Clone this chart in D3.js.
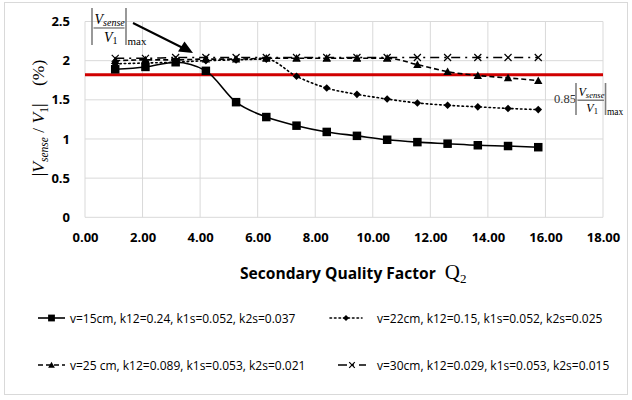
<!DOCTYPE html>
<html>
<head>
<meta charset="utf-8">
<script src="https://cdn.jsdelivr.net/npm/d3@7/dist/d3.min.js"></script>
<style>
  html, body { margin: 0; padding: 0; background: #fff; }
  svg { display: block; }
</style>
</head>
<body>
<svg id="chart" width="632" height="400"></svg>
<script>
// Secondary quality factor Q2 (x values shared by all series)
const q2 = [1.05, 2.1, 3.15, 4.2, 5.25, 6.3, 7.35, 8.4, 9.45, 10.5, 11.55, 12.6, 13.65, 14.7, 15.75];

// |Vsense / V1| (%) for each coil spacing
const v15 = [1.89, 1.92, 1.98, 1.87, 1.47, 1.28, 1.17, 1.09, 1.04, 0.99, 0.96, 0.94, 0.92, 0.91, 0.895];
const v22 = [1.96, 1.97, 1.98, 2.00, 2.01, 2.02, 1.80, 1.65, 1.57, 1.51, 1.46, 1.43, 1.41, 1.39, 1.375];
const v25 = [2.00, 2.01, 2.01, 2.02, 2.02, 2.03, 2.03, 2.03, 2.03, 2.03, 1.95, 1.86, 1.81, 1.78, 1.745];
const v30 = [2.03, 2.03, 2.04, 2.04, 2.04, 2.04, 2.04, 2.04, 2.04, 2.04, 2.04, 2.04, 2.04, 2.04, 2.04];

const seriesLabels = [
  "v=15cm, k12=0.24, k1s=0.052, k2s=0.037",
  "v=22cm, k12=0.15, k1s=0.052, k2s=0.025",
  "v=25 cm, k12=0.089, k1s=0.053, k2s=0.021",
  "v=30cm, k12=0.029, k1s=0.053, k2s=0.015"
];

// Threshold level: 0.85 of the maximum ratio
const thresholdLevel = 1.82;

const xTicks = [0, 2, 4, 6, 8, 10, 12, 14, 16, 18];
const yTicks = [0, 0.5, 1, 1.5, 2, 2.5];

const svg = d3.select("#chart");
const W = 632, H = 400;
const plot = { left: 85, right: 603, top: 21.5, bottom: 217.3 };

const x = d3.scaleLinear().domain([0, 18]).range([plot.left, plot.right]);
const y = d3.scaleLinear().domain([0, 2.5]).range([plot.bottom, plot.top]);

const tickFont = "'Open Sans', 'Liberation Sans', sans-serif";
const mathFont = "'Liberation Serif', 'DejaVu Serif', serif";

// outer frame
svg.append("rect").attr("x", 4.5).attr("y", 2.5).attr("width", W - 9).attr("height", H - 8)
  .attr("fill", "#fff").attr("stroke", "#d9d9d9").attr("stroke-width", 1);

// gridlines
const grid = svg.append("g");
grid.selectAll("line.v").data(xTicks).join("line")
  .attr("x1", d => x(d)).attr("x2", d => x(d))
  .attr("y1", plot.top).attr("y2", plot.bottom)
  .attr("stroke", "#d9d9d9").attr("stroke-width", 1);
grid.selectAll("line.h").data(yTicks).join("line")
  .attr("x1", plot.left).attr("x2", plot.right)
  .attr("y1", d => y(d)).attr("y2", d => y(d))
  .attr("stroke", "#d9d9d9").attr("stroke-width", 1);

// axes (labels only; the grid draws the lines)
const yAxis = svg.append("g").attr("transform", `translate(${plot.left},0)`)
  .call(d3.axisLeft(y).tickValues(yTicks).tickFormat(d3.format("")).tickSize(0).tickPadding(15));
const xAxis = svg.append("g").attr("transform", `translate(0,${plot.bottom})`)
  .call(d3.axisBottom(x).tickValues(xTicks).tickFormat(d3.format(".2f")).tickSize(0).tickPadding(15));
[yAxis, xAxis].forEach(a => {
  a.select(".domain").remove();
  a.selectAll("text").attr("font-family", tickFont).attr("font-weight", "bold")
    .attr("font-size", 13).attr("fill", "#000");
});

// threshold line
svg.append("line")
  .attr("x1", plot.left).attr("x2", plot.right)
  .attr("y1", y(thresholdLevel)).attr("y2", y(thresholdLevel))
  .attr("stroke", "#d00000").attr("stroke-width", 3);

// series
const series = [
  { values: v15, dash: null, width: 1.6, marker: "square" },
  { values: v22, dash: "1.5,3", width: 1.6, marker: "diamond", cap: "round" },
  { values: v25, dash: "5,3", width: 1.6, marker: "triangle" },
  { values: v30, dash: "9,5,2,5", width: 1.6, marker: "cross" }
];

const line = d3.line().x(d => x(d[0])).y(d => y(d[1])).curve(d3.curveMonotoneX);

function drawMarker(g, type, cx, cy, scale = 1) {
  if (type === "square") {
    const s = 8.5 * scale;
    g.append("rect").attr("x", cx - s / 2).attr("y", cy - s / 2).attr("width", s).attr("height", s).attr("fill", "#000");
  } else if (type === "diamond") {
    const s = 3.8 * scale;
    g.append("path").attr("d", `M${cx},${cy - s}L${cx + s},${cy}L${cx},${cy + s}L${cx - s},${cy}Z`).attr("fill", "#000");
  } else if (type === "triangle") {
    const s = 4.2 * scale;
    g.append("path").attr("d", `M${cx},${cy - s}L${cx + s},${cy + s * 0.8}L${cx - s},${cy + s * 0.8}Z`).attr("fill", "#000");
  } else if (type === "cross") {
    const s = 3.5 * scale;
    g.append("path").attr("d", `M${cx - s},${cy - s}L${cx + s},${cy + s}M${cx - s},${cy + s}L${cx + s},${cy - s}`)
      .attr("stroke", "#000").attr("stroke-width", 1.2).attr("fill", "none");
  }
}

// draw back-to-front so the flat series sit on top
[3, 2, 1, 0].forEach(i => {
  const s = series[i];
  const pts = q2.map((q, j) => [q, s.values[j]]);
  const g = svg.append("g");
  g.append("path").datum(pts).attr("d", line)
    .attr("fill", "none").attr("stroke", "#000").attr("stroke-width", s.width)
    .attr("stroke-dasharray", s.dash).attr("stroke-linecap", s.cap || "butt");
  pts.forEach(p => drawMarker(g, s.marker, x(p[0]), y(p[1])));
});

// y-axis title: |Vsense / V1|  (%)
const yTitle = svg.append("text")
  .attr("transform", "translate(44,118) rotate(-90)")
  .attr("text-anchor", "middle").attr("font-family", mathFont).attr("font-size", 17.5).attr("fill", "#000");
yTitle.append("tspan").text("|");
yTitle.append("tspan").attr("font-style", "italic").text("V");
yTitle.append("tspan").attr("font-style", "italic").attr("font-size", 11.5).attr("dy", 4).text("sense");
yTitle.append("tspan").attr("dy", -4).text(" / ");
yTitle.append("tspan").attr("font-style", "italic").text("V");
yTitle.append("tspan").attr("font-size", 11.5).attr("dy", 4).text("1");
yTitle.append("tspan").attr("dy", -4).text("|\u2003(%)");

// x-axis title
const xTitle = svg.append("text").attr("x", 240).attr("y", 279).attr("fill", "#000");
xTitle.append("tspan").attr("font-family", tickFont).attr("font-weight", "bold").attr("font-size", 15.6)
  .text("Secondary Quality Factor");
xTitle.append("tspan").attr("font-family", mathFont).attr("font-size", 21).attr("dx", 9).text("Q");
xTitle.append("tspan").attr("font-family", mathFont).attr("font-size", 13).attr("dy", 4).text("2");

// |Vsense/V1|max fraction label
function fractionLabel(g, x0, yTop, h, f) {
  const bar = "#7f7f7f";
  const wFrac = 32 * f;
  g.append("line").attr("x1", x0).attr("x2", x0).attr("y1", yTop).attr("y2", yTop + h).attr("stroke", bar).attr("stroke-width", 1.6);
  g.append("line").attr("x1", x0 + wFrac + 2).attr("x2", x0 + wFrac + 2).attr("y1", yTop).attr("y2", yTop + h).attr("stroke", bar).attr("stroke-width", 1.6);
  g.append("line").attr("x1", x0 + 1.5).attr("x2", x0 + wFrac + 0.5).attr("y1", yTop + h * 0.54).attr("y2", yTop + h * 0.54).attr("stroke", bar).attr("stroke-width", 1.4);
  const num = g.append("text").attr("x", x0 + 2.5).attr("y", yTop + h * 0.42).attr("font-family", mathFont).attr("font-style", "italic").attr("font-size", 14 * f);
  num.append("tspan").text("V");
  num.append("tspan").attr("font-size", 10 * f).attr("dy", 2).text("sense");
  const den = g.append("text").attr("x", x0 + wFrac / 2 - 4 * f).attr("y", yTop + h * 0.92).attr("font-family", mathFont).attr("font-size", 14 * f);
  den.append("tspan").attr("font-style", "italic").text("V");
  den.append("tspan").attr("font-size", 10 * f).attr("dy", 2).text("1");
  g.append("text").attr("x", x0 + wFrac + 3.5).attr("y", yTop + h).attr("font-family", mathFont).attr("font-size", 11 * f).text("max");
}

const topLabel = svg.append("g");
fractionLabel(topLabel, 92, 8, 37, 1);

// arrow pointing at the flat maximum
svg.append("line").attr("x1", 133).attr("y1", 23).attr("x2", 182).attr("y2", 47.5)
  .attr("stroke", "#000").attr("stroke-width", 2);
svg.append("path").attr("d", "M193,53 L178,51.5 L184.5,41.5 Z").attr("fill", "#000");

// 0.85 |Vsense/V1|max label next to the threshold
const rightLabel = svg.append("g");
rightLabel.append("text").attr("x", 554).attr("y", 103).attr("font-family", mathFont).attr("font-size", 12.5).attr("fill", "#333").text("0.85");
fractionLabel(rightLabel, 576, 83, 32, 0.86);

// legend
const legendPos = [[38, 318], [330, 318], [38, 365], [338, 365]];
const legendSample = [27, 32, 27, 28];
series.forEach((s, i) => {
  const [lx, ly] = legendPos[i];
  const len = legendSample[i];
  const g = svg.append("g");
  g.append("line").attr("x1", lx).attr("x2", lx + len).attr("y1", ly).attr("y2", ly)
    .attr("stroke", "#000").attr("stroke-width", 1.6).attr("stroke-dasharray", s.dash)
    .attr("stroke-linecap", s.cap || "butt");
  drawMarker(g, s.marker, lx + len / 2, ly, 0.8);
  g.append("text").attr("x", i % 2 === 0 ? 70 : 377).attr("y", ly + 4.5)
    .attr("font-family", tickFont).attr("font-size", 12).attr("fill", "#000")
    .text(seriesLabels[i]);
});
</script>
</body>
</html>
